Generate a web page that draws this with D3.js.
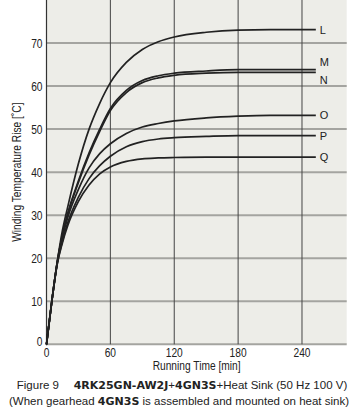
<!DOCTYPE html>
<html>
<head>
<meta charset="utf-8">
<script src="https://cdn.jsdelivr.net/npm/d3@7"></script>
<style>
  body { margin: 0; background: #fff; }
  text { font-family: "Liberation Sans", Arial, sans-serif; fill: #222; }
  .bold { font-family: "DejaVu Sans", sans-serif; font-weight: bold; font-size: 11px; }
</style>
</head>
<body>
<svg id="chart" width="362" height="411"></svg>
<script>
// running time in minutes
const times = [0, 5, 10, 15, 20, 30, 40, 50, 60, 75, 90, 105, 120, 150, 180, 210, 253];
// temperature rise, one list per curve
const curveL = [0, 10, 19, 26.5, 32, 42, 50, 56, 60.8, 65.5, 68.5, 70.3, 71.4, 72.5, 73, 73.1, 73.1];
const curveM = [0, 10, 19, 25.5, 30.5, 38, 44.5, 50, 54.8, 59, 61.3, 62.4, 63, 63.5, 63.8, 63.8, 63.8];
const curveN = [0, 10, 19, 25.3, 30.2, 37.6, 44, 49.5, 54.3, 58.5, 60.8, 61.9, 62.5, 63, 63.2, 63.2, 63.2];
const curveO = [0, 10, 18.8, 24.8, 29.5, 36, 41, 44.3, 46.6, 49, 50.5, 51.3, 51.9, 52.6, 53, 53.2, 53.2];
const curveP = [0, 10, 18.6, 24, 28.3, 34.2, 38.5, 41.5, 43.7, 45.9, 47.1, 47.7, 48, 48.3, 48.5, 48.5, 48.5];
const curveQ = [0, 10, 18.5, 23.6, 27.6, 33.2, 37, 39.6, 41.2, 42.5, 43.1, 43.3, 43.4, 43.5, 43.5, 43.5, 43.5];
const curveNames = ["L", "M", "N", "O", "P", "Q"];
const xTicks = [0, 60, 120, 180, 240];
const yTicks = [0, 10, 20, 30, 40, 50, 60, 70];

const series = [curveL, curveM, curveN, curveO, curveP, curveQ];
// label offsets so M/N don't sit on top of each other
const labelShift = {L: 0, M: -8, N: 8, O: 0, P: 0, Q: 0};

const svg = d3.select("#chart");
const x = d3.scaleLinear().domain([0, 282]).range([46.5, 346.7]);
const y = d3.scaleLinear().domain([0, 80]).range([344.3, 0]);

// plot background
svg.append("rect")
  .attr("x", x(0)).attr("y", y(80))
  .attr("width", x(282) - x(0)).attr("height", y(0) - y(80))
  .attr("fill", "#ededE8");

// horizontal grid (gray, thick)
svg.append("g").selectAll("line")
  .data(yTicks)
  .enter().append("line")
  .attr("x1", x(0)).attr("x2", x(282))
  .attr("y1", d => y(d)).attr("y2", d => y(d))
  .attr("stroke", "#a4a4a0").attr("stroke-width", 2);

// vertical grid (dark, thin)
svg.append("g").selectAll("line")
  .data(xTicks.slice(1))
  .enter().append("line")
  .attr("x1", d => x(d)).attr("x2", d => x(d))
  .attr("y1", y(80)).attr("y2", y(0))
  .attr("stroke", "#444").attr("stroke-width", 1);

// left axis line
svg.append("line")
  .attr("x1", x(0)).attr("x2", x(0))
  .attr("y1", y(80)).attr("y2", y(0) + 1)
  .attr("stroke", "#333").attr("stroke-width", 1.2);

// squeeze text a bit, the original uses a narrow face
function squeeze(sel, k) {
  sel.each(function() {
    const w = this.getComputedTextLength();
    d3.select(this).attr("textLength", w * k).attr("lengthAdjust", "spacingAndGlyphs");
  });
}

// tick labels
svg.append("g").selectAll("text")
  .data(yTicks)
  .enter().append("text")
  .attr("x", x(0) - 4)
  .attr("y", d => y(d) + (d === 0 ? 2 : 4.5))
  .attr("text-anchor", "end")
  .attr("font-size", 12)
  .text(d => d)
  .call(squeeze, 0.85);

svg.append("g").selectAll("text")
  .data(xTicks)
  .enter().append("text")
  .attr("x", d => x(d))
  .attr("y", y(0) + 13)
  .attr("text-anchor", "middle")
  .attr("font-size", 12)
  .text(d => d)
  .call(squeeze, 0.85);

// curves
const line = d3.line()
  .x((d, i) => x(times[i]))
  .y(d => y(d))
  .curve(d3.curveMonotoneX);

svg.append("g").selectAll("path")
  .data(series)
  .enter().append("path")
  .attr("d", line)
  .attr("fill", "none")
  .attr("stroke", "#222")
  .attr("stroke-width", 1.7);

// curve labels at the right end
svg.append("g").selectAll("text")
  .data(series)
  .enter().append("text")
  .attr("x", x(times[times.length - 1]) + 4)
  .attr("y", (d, i) => y(d[d.length - 1]) + 4 + labelShift[curveNames[i]])
  .attr("font-size", 11)
  .text((d, i) => curveNames[i]);

// axis titles
svg.append("text")
  .attr("transform", `translate(21,${y(40)}) rotate(-90)`)
  .attr("text-anchor", "middle")
  .attr("font-size", 12)
  .text("Winding Temperature Rise [˚C]")
  .call(squeeze, 0.85);

svg.append("text")
  .attr("x", (x(0) + x(282)) / 2)
  .attr("y", 370)
  .attr("text-anchor", "middle")
  .attr("font-size", 12)
  .text("Running Time [min]")
  .call(squeeze, 0.85);

// caption
const cap1 = svg.append("text")
  .attr("x", 182).attr("y", 389)
  .attr("text-anchor", "middle")
  .attr("font-size", 11.5);
cap1.append("tspan").text("Figure 9\u2003 ");
cap1.append("tspan").attr("class", "bold").text("4RK25GN-AW2J");
cap1.append("tspan").text("+");
cap1.append("tspan").attr("class", "bold").text("4GN3S");
cap1.append("tspan").text("+Heat Sink (50 Hz 100 V)");

const cap2 = svg.append("text")
  .attr("x", 179).attr("y", 405)
  .attr("text-anchor", "middle")
  .attr("font-size", 11.5);
cap2.append("tspan").text("(When gearhead ");
cap2.append("tspan").attr("class", "bold").text("4GN3S");
cap2.append("tspan").text(" is assembled and mounted on heat sink)");
</script>
</body>
</html>
